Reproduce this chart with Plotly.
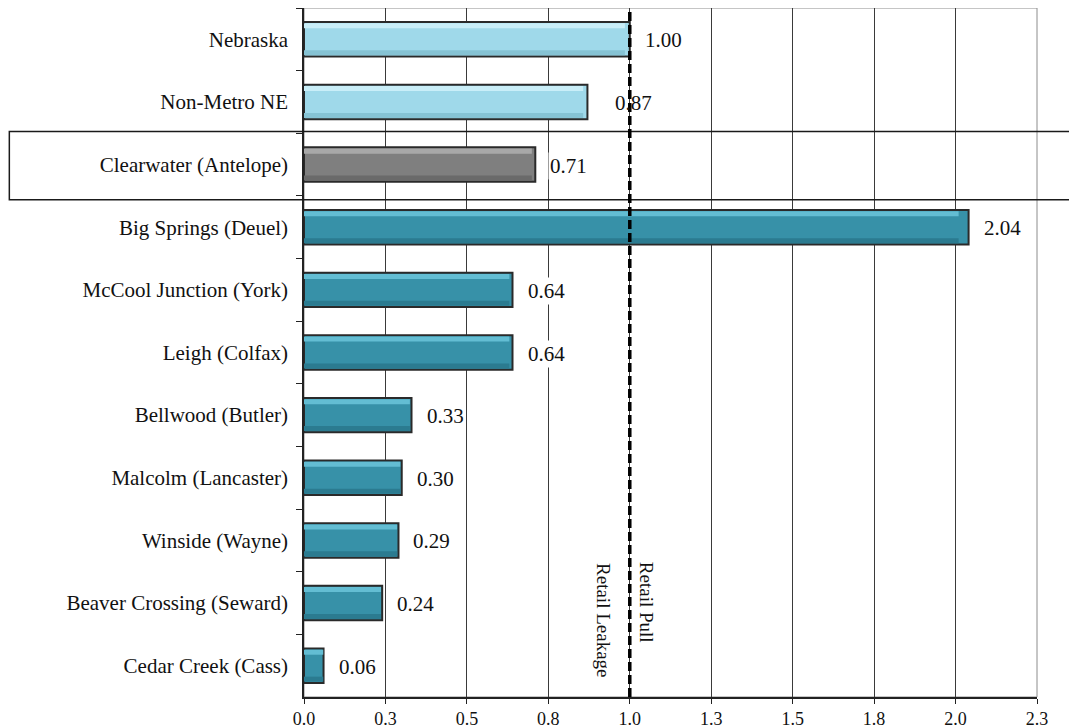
import plotly.graph_objects as go

categories = [
    "Nebraska",
    "Non-Metro NE",
    "Clearwater (Antelope)",
    "Big Springs (Deuel)",
    "McCool Junction (York)",
    "Leigh (Colfax)",
    "Bellwood (Butler)",
    "Malcolm (Lancaster)",
    "Winside (Wayne)",
    "Beaver Crossing (Seward)",
    "Cedar Creek (Cass)",
]
values = [1.00, 0.87, 0.71, 2.04, 0.64, 0.64, 0.33, 0.30, 0.29, 0.24, 0.06]
groups = ["state", "state", "focus", "peer", "peer", "peer", "peer", "peer", "peer", "peer", "peer"]

tick_values = [0.0, 0.25, 0.5, 0.75, 1.0, 1.25, 1.5, 1.75, 2.0, 2.25]
tick_labels = ["0.0", "0.3", "0.5", "0.8", "1.0", "1.3", "1.5", "1.8", "2.0", "2.3"]

threshold = 1.0
focus_category = "Clearwater (Antelope)"

base_colors = {"state": "#9fd9ea", "focus": "#7f7f7f", "peer": "#3791a8"}
light_colors = {"state": "#c9eef8", "focus": "#a8a8a8", "peer": "#63bdd3"}
dark_colors = {"state": "#86c3d4", "focus": "#6a6a6a", "peer": "#2b7b90"}

# label offset style (px); the Non-Metro label sits further right in the original
label_shift = {"Non-Metro NE": 26}
DEFAULT_SHIFT = 13

FONT = "Liberation Serif, Times New Roman, serif"

fig = go.Figure()

fig.add_trace(go.Bar(
    x=values, y=categories, orientation="h",
    width=0.55,
    marker=dict(color=[base_colors[g] for g in groups],
                line=dict(color="#2a2a2a", width=2)),
    hoverinfo="x+y", showlegend=False,
))
# bevel highlight (top strip)
fig.add_trace(go.Bar(
    x=[v * 0.985 for v in values], y=categories, orientation="h",
    width=0.08, offset=-0.255,
    marker=dict(color=[light_colors[g] for g in groups], line=dict(width=0)),
    hoverinfo="skip", showlegend=False,
))
# bevel shadow (bottom strip)
fig.add_trace(go.Bar(
    x=[v * 0.985 for v in values], y=categories, orientation="h",
    width=0.08, offset=0.175,
    marker=dict(color=[dark_colors[g] for g in groups], line=dict(width=0)),
    hoverinfo="skip", showlegend=False,
))

annotations = []
for c, v in zip(categories, values):
    crosses = v < threshold and v + 0.25 > threshold
    annotations.append(dict(
        x=v, y=c, xref="x", yref="y", text=f"{v:.2f}",
        showarrow=False, xanchor="left", yanchor="middle",
        xshift=label_shift.get(c, DEFAULT_SHIFT), yshift=-1,
        font=dict(family=FONT, size=21, color="#111111"),
        bgcolor="rgba(255,255,255,0)" if crosses else "white",
        borderpad=1,
    ))

annotations.append(dict(
    x=threshold, y=0.112, xref="x", yref="paper", text="Retail Leakage",
    textangle=90, showarrow=False, xanchor="center", yanchor="middle", xshift=-27,
    font=dict(family=FONT, size=19, color="#111111"),
))
annotations.append(dict(
    x=threshold, y=0.137, xref="x", yref="paper", text="Retail Pull",
    textangle=90, showarrow=False, xanchor="center", yanchor="middle", xshift=17,
    font=dict(family=FONT, size=19, color="#111111"),
))

focus_idx = categories.index(focus_category)
shapes = [
    dict(type="rect", xref="paper", yref="paper", x0=0, x1=1, y0=0, y1=1,
         line=dict(color="#8c8c8c", width=1), layer="below"),
    dict(type="rect", xref="paper", yref="y", x0=-0.402, x1=1.07,
         y0=focus_idx - 0.53, y1=focus_idx + 0.56,
         line=dict(color="#1a1a1a", width=1.5), layer="above"),
    dict(type="line", xref="x", yref="paper", x0=threshold, x1=threshold,
         y0=0, y1=1.01, line=dict(color="black", width=3.5, dash="9px,4px"),
         layer="above"),
]

fig.update_layout(
    width=1069, height=720,
    margin=dict(l=296, r=40, t=0, b=31, pad=0),
    paper_bgcolor="white", plot_bgcolor="white",
    barmode="overlay",
    font=dict(family=FONT, color="#111111"),
    annotations=annotations, shapes=shapes,
    showlegend=False,
)
fig.update_xaxes(
    range=[0, 2.25], tickmode="array", tickvals=tick_values, ticktext=tick_labels,
    showgrid=True, gridcolor="#3a3a3a", gridwidth=1,
    showline=True, linecolor="#222222", linewidth=1.5,
    ticks="outside", ticklen=5, tickcolor="#222222",
    tickfont=dict(family=FONT, size=18, color="#111111"),
    zeroline=False, fixedrange=True,
)
fig.update_yaxes(
    categoryorder="array", categoryarray=categories, autorange="reversed",
    showgrid=False, showline=True, linecolor="#222222", linewidth=1.5,
    ticks="outside", ticklen=6, tickcolor="#222222", tickson="boundaries",
    ticklabelstandoff=10,
    tickfont=dict(family=FONT, size=21, color="#111111"),
    fixedrange=True,
)

fig.write_html("out.html")
